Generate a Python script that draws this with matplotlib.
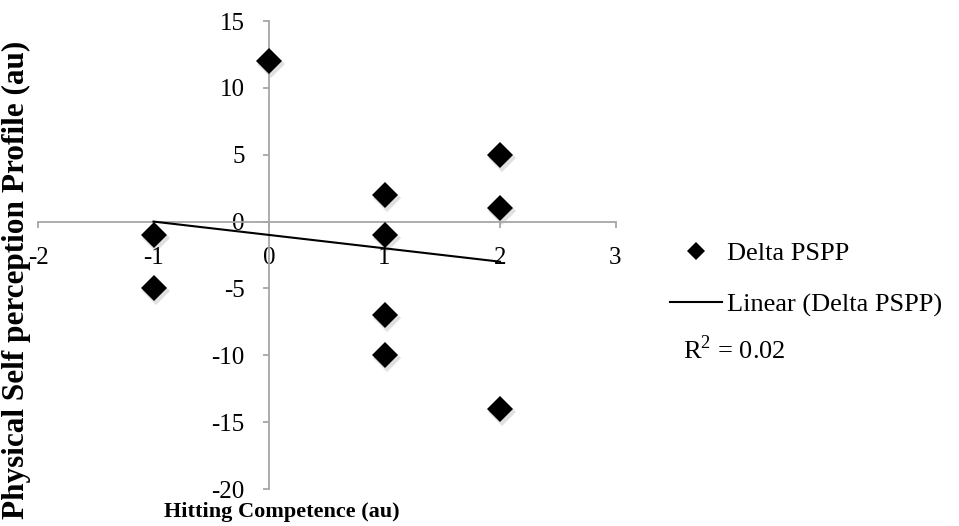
import numpy as np
import matplotlib
matplotlib.use("Agg")
import matplotlib.pyplot as plt
from matplotlib.lines import Line2D
from matplotlib.transforms import offset_copy

# Data
hitting = [0, -1, -1, 1, 1, 1, 1, 2, 2, 2]
delta_pspp = [12, -1, -5, 2, -1, -7, -10, 5, 1, -14]
x_ticks = [-2, -1, 0, 1, 2, 3]
y_ticks = [-20, -15, -10, -5, 0, 5, 10, 15]
r2_label = "R$^2$ = 0.02"

plt.rcParams['font.family'] = ['Liberation Serif', 'DejaVu Serif']
plt.rcParams['mathtext.fontset'] = 'custom'
plt.rcParams['mathtext.rm'] = 'Liberation Serif'

fig = plt.figure(figsize=(9.59, 5.26), dpi=100)
ax = fig.add_axes([38/959, 37/526, 577.5/959, 468/526])

ax.set_xlim(-2, 3)
ax.set_ylim(-20, 15)

axis_col = '#a6a6a6'
for s in ['top', 'right']:
    ax.spines[s].set_visible(False)
ax.spines['left'].set_position(('data', 0))
ax.spines['bottom'].set_position(('data', 0))
for s in ['left', 'bottom']:
    ax.spines[s].set_color(axis_col)
    ax.spines[s].set_linewidth(1.3)

ax.set_xticks(x_ticks)
ax.set_yticks(y_ticks)
ax.set_xticklabels([str(v) for v in x_ticks])
ax.set_yticklabels([str(v) for v in y_ticks])
ax.tick_params(axis='both', direction='out', length=4.5, width=1.3, color=axis_col,
               labelsize=18, labelcolor='black')
ax.tick_params(axis='x', pad=14)
ax.tick_params(axis='y', pad=13)

# shadow
shadow_tr = offset_copy(ax.transData, fig=fig, x=2, y=-3, units='dots')
ax.plot(hitting, delta_pspp, linestyle='none', marker='D', markersize=14,
        color='#000000', alpha=0.12, markeredgewidth=0, transform=shadow_tr, zorder=2)
ax.plot(hitting, delta_pspp, linestyle='none', marker='D', markersize=13.2,
        color='black', markeredgewidth=0, zorder=3)

# linear trendline
slope, intercept = np.polyfit(hitting, delta_pspp, 1)
xs = np.array([min(hitting), max(hitting)])
ax.plot(xs, slope * xs + intercept, color='black', linewidth=1.5, zorder=4)

# axis titles
fig.text(16/959, 1 - 280/526, "Physical Self perception Profile (au)", rotation=90,
         ha='center', va='center', fontsize=22.5, fontweight='bold')
fig.text(282/959, 1 - 512/526, "Hitting Competence (au)", ha='center', va='center',
         fontsize=16, fontweight='bold')

# legend
h1 = Line2D([], [], linestyle='none', marker='D', markersize=8.7, color='black',
            markeredgewidth=0)
h2 = Line2D([], [], color='black', linewidth=1.5)
leg = fig.legend([h1, h2], ["Delta PSPP", "Linear (Delta PSPP)"],
                 loc='upper left', bbox_to_anchor=(670/959, 1 - 242/526),
                 frameon=False, fontsize=19, handlelength=1.97, handletextpad=0.2,
                 labelspacing=1.05, borderpad=0, borderaxespad=0)
fig.text(683/959, 1 - 350/526, r2_label, ha='left', va='center', fontsize=19)

fig.savefig("out.png", dpi=100)
